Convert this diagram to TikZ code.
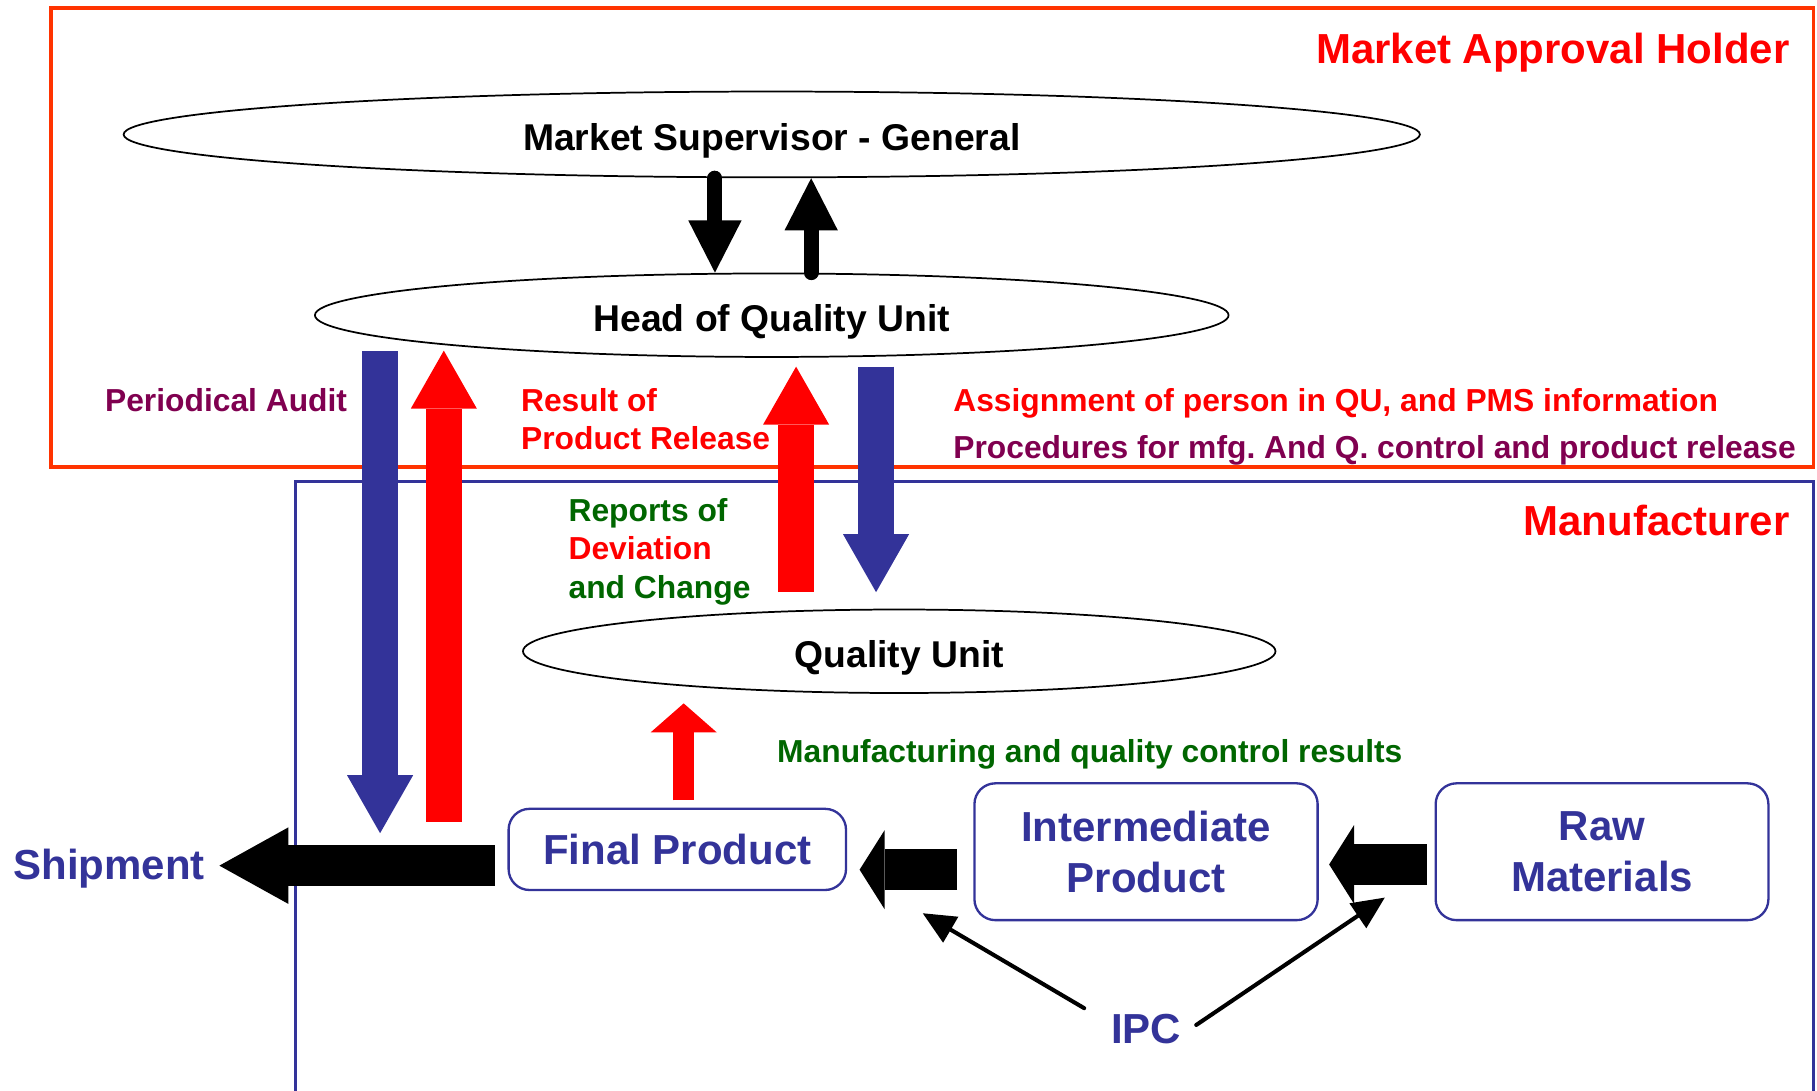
\documentclass[tikz,border=0pt]{standalone}
\usepackage{fontspec}
\setmainfont{Liberation Sans}
\usetikzlibrary{arrows.meta,shapes.geometric}
\definecolor{HolderClr}{RGB}{255,51,0}
\definecolor{MakerClr}{RGB}{51,51,153}
\definecolor{AuditClr}{RGB}{128,0,80}
\definecolor{ReportClr}{RGB}{0,102,0}
\newcommand{\HeadFont}{\fontsize{10.3}{12.5}\selectfont\bfseries}
\newcommand{\UnitFont}{\fontsize{9.15}{11}\selectfont\bfseries}
\newcommand{\NoteFont}{\fontsize{7.8}{9.4}\selectfont\bfseries}

\tikzset{
  unit/.style={ellipse,draw,line width=0.015cm,inner sep=0pt,text height=7.8pt,text depth=0pt,font=\UnitFont},
  stage/.style={draw=MakerClr,line width=0.02cm,rounded corners=0.18cm,text=MakerClr,align=center,font=\HeadFont,inner sep=0pt},
  note/.style={inner sep=0pt,anchor=west,font=\NoteFont,align=left},
  title/.style={inner sep=0pt,anchor=east,font=\HeadFont,text=red},
  link/.style={line width=0.13cm,line cap=round,-{Triangle[length=0.45cm,width=0.46cm,line width=0pt]}},
  flow/.style={line width=0.31cm,-{Triangle[length=0.5cm,width=0.57cm,line width=0pt]}},
  feed/.style={line width=0.35cm,-{Triangle[length=0.215cm,width=0.68cm,line width=0pt]}},
  shipflow/.style={line width=0.354cm,-{Triangle[length=0.595cm,width=0.66cm,line width=0pt]}},
  ipcline/.style={line width=0.035cm,line cap=round,-{Triangle[length=0.28cm,width=0.26cm,line width=0pt]}},
}

\begin{document}
\frenchspacing
\begin{tikzpicture}[x=0.01cm,y=-0.01cm]
\useasboundingbox (0,0) rectangle (1568,941);

\draw[HolderClr,line width=0.03cm] (44,7) rectangle (1565,403);
\draw[MakerClr,line width=0.025cm] (255,960) -- (255,415.5) -- (1565,415.5) -- (1565,960);

\node[title] (holder) at (1545,45) {Market Approval Holder};
\node[title] (maker) at (1545,449) {Manufacturer};

\node[unit,minimum width=11.18cm,minimum height=0.74cm] (msg) at (666,116) {Market Supervisor - General};
\node[unit,minimum width=7.88cm,minimum height=0.72cm] (hqu) at (666,272) {Head of Quality Unit};
\node[unit,minimum width=6.49cm,minimum height=0.72cm] (qu) at (776,562) {Quality Unit};

\node[stage,minimum width=2.91cm,minimum height=0.70cm] (fp) at (584.5,733) {Final Product};
\node[stage,minimum width=2.96cm,minimum height=1.18cm] (ip) at (989,735) {Intermediate\\Product};
\node[stage,minimum width=2.87cm,minimum height=1.18cm] (rm) at (1382.5,735) {Raw\\Materials};

\node[note,text=AuditClr] (audit) at (90,345) {Periodical Audit};
\node[note,text=red] (release) at (449,361.5) {Result of\\Product Release};
\node[note,text=red] (assign) at (822,348) {Assignment of person in QU, and PMS information};
\node[note,text=AuditClr] (proc) at (822,389) {Procedures for mfg. And Q. control and product release};
\node[note] (report) at (490,476) {\textcolor{ReportClr}{Reports of}\\\textcolor{red}{Deviation}\\\textcolor{ReportClr}{and Change}};
\node[note,text=ReportClr] (mqc) at (670,651) {Manufacturing and quality control results};
\node[inner sep=0pt,anchor=west,font=\HeadFont,text=MakerClr] (ship) at (11,750) {Shipment};
\node[inner sep=0pt,font=\HeadFont,text=MakerClr] (ipc) at (989,888) {IPC};

\coordinate (audT) at (328,303);
\coordinate (audB) at (328,719);
\coordinate (relB) at (383,709);
\coordinate (relT) at (383,302.6);
\coordinate (repB) at (687,511);
\coordinate (repT) at (687,316.4);
\coordinate (asgT) at (756,316.4);
\coordinate (asgB) at (756,511);
\coordinate (mqcB) at (590,690.7);
\coordinate (mqcT) at (590,607);
\coordinate (shipT) at (427,747);
\coordinate (shipH) at (189.3,747);
\coordinate (ipT) at (826,750.5);
\coordinate (ipH) at (741.8,750.5);
\coordinate (rmT) at (1231.5,746);
\coordinate (rmH) at (1147,746);
\coordinate (ipcL) at (935.6,870);
\coordinate (ipcLH) at (796.3,788.1);
\coordinate (ipcR) at (1032.3,884.5);
\coordinate (ipcRH) at (1195,774.6);

\draw[link] ([xshift=-0.49cm]msg.south) -- ([xshift=-0.49cm]hqu.north);
\draw[link] ([xshift=0.34cm]hqu.north) -- ([xshift=0.34cm]msg.south);

\draw[flow,MakerClr] (audT) -- (audB);
\draw[flow,red] (relB) -- (relT);
\draw[flow,red] (repB) -- (repT);
\draw[flow,MakerClr] (asgT) -- (asgB);
\draw[red,line width=0.18cm,-{Triangle[length=0.25cm,width=0.57cm,line width=0pt]}] (mqcB) -- (mqcT);

\draw[shipflow] (shipT) -- (shipH);
\draw[feed] (ipT) -- (ipH);
\draw[feed] (rmT) -- (rmH);
\draw[ipcline] (ipcL) -- (ipcLH);
\draw[ipcline] (ipcR) -- (ipcRH);

\end{tikzpicture}
\end{document}
